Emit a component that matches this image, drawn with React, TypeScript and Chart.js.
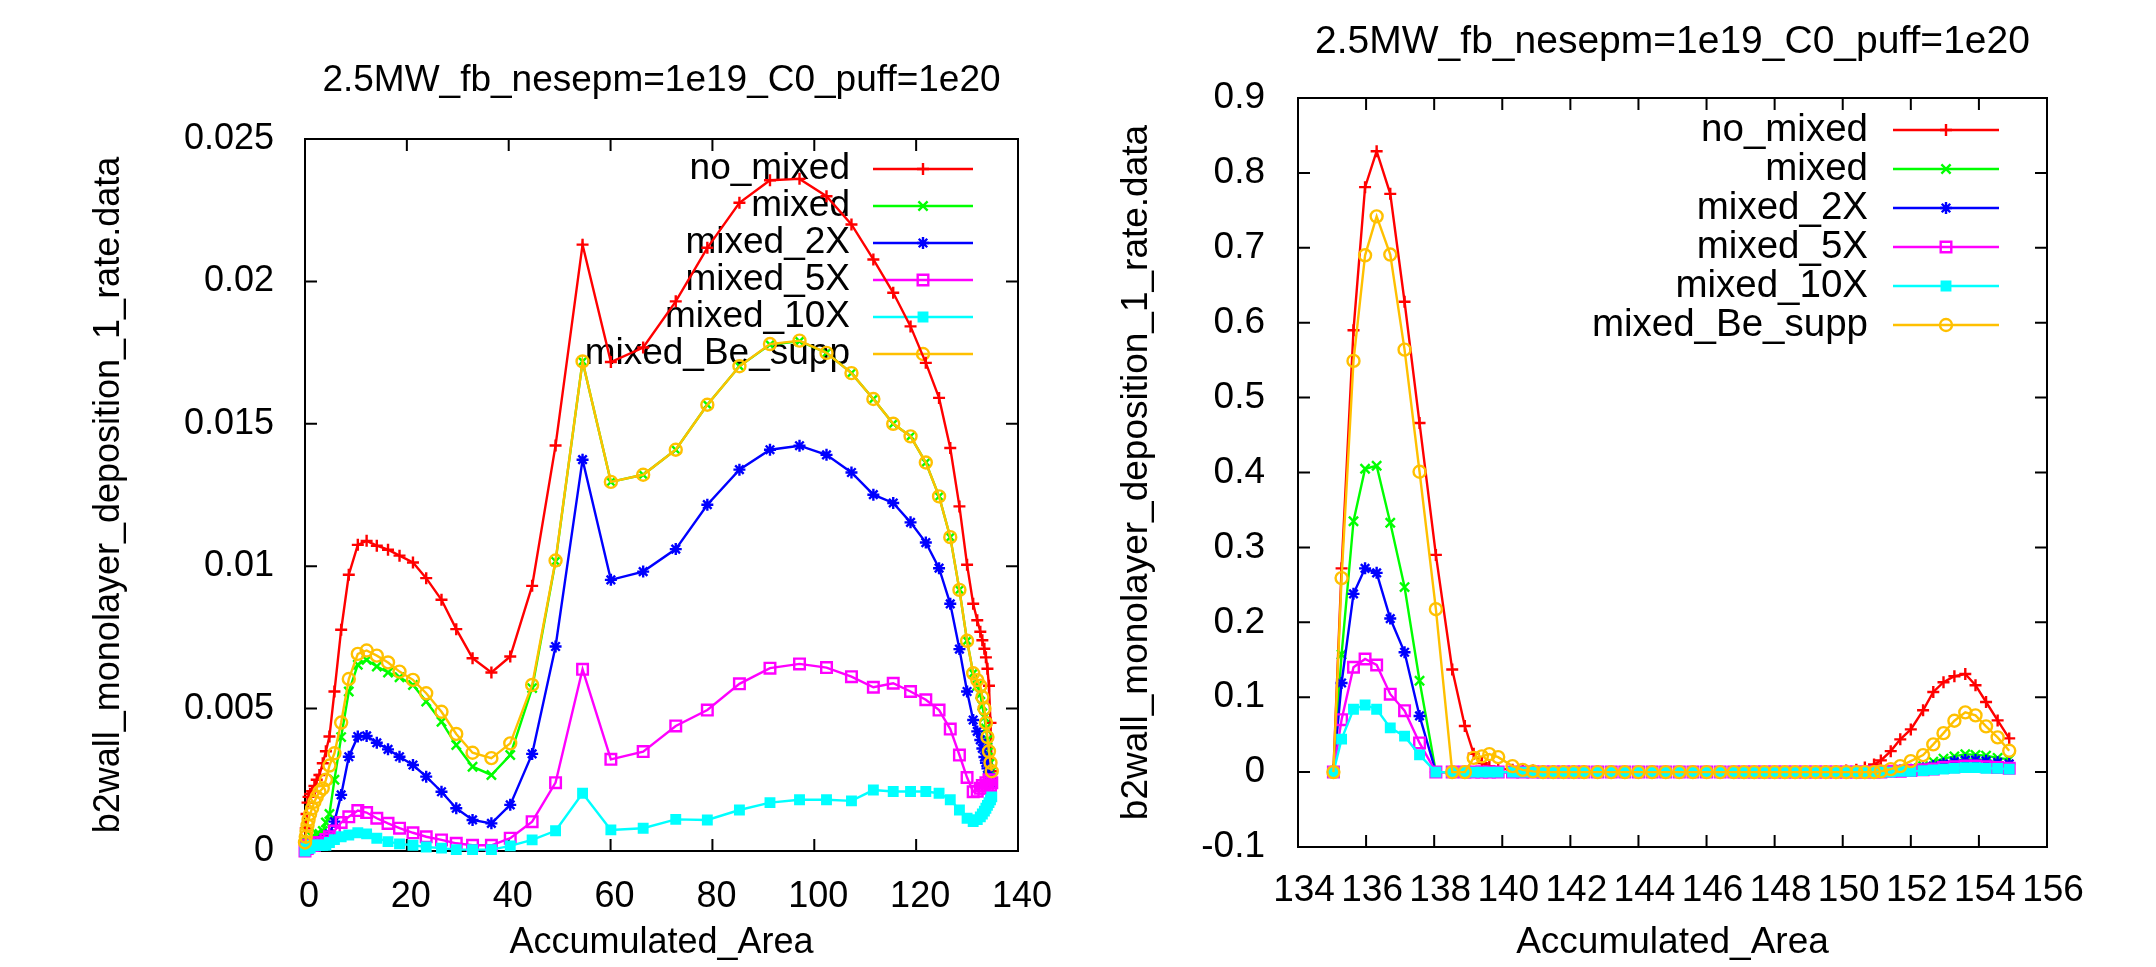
import React, { useEffect, useRef } from "react";
import { Chart, registerables } from "chart.js";
Chart.register(...registerables);

const FONT = "'Liberation Sans', Arial, Helvetica, sans-serif";

const TITLE = "2.5MW_fb_nesepm=1e19_C0_puff=1e20";
const Y_TITLE = "b2wall_monolayer_deposition_1_rate.data";
const X_TITLE = "Accumulated_Area";
const SERIES_NAMES = ["no_mixed", "mixed", "mixed_2X", "mixed_5X", "mixed_10X", "mixed_Be_supp"];
const SERIES_COLORS = ["#ff0000", "#00ff00", "#0000ff", "#ff00ff", "#00ffff", "#ffc000"];

// ---------- left panel data ----------
const LEFT_X = [0, 0.15, 0.3, 0.5, 0.7, 1.0, 1.4, 1.85, 2.3, 2.83, 3.49, 4.1, 4.8, 5.78, 7.1, 8.6, 10.37, 12.1, 14.1, 16.3, 18.56, 21.2, 23.8, 26.8, 29.7, 32.9, 36.6, 40.3, 44.6, 49.2, 54.5, 60.06, 66.4, 72.8, 79.0, 85.3, 91.3, 97.1, 102.4, 107.3, 111.6, 115.5, 118.9, 121.9, 124.5, 126.7, 128.5, 130.0, 131.2, 132.0, 132.6, 133.0, 133.4, 133.7, 134.0, 134.3, 134.6, 134.85];
const LEFT_NO_MIXED = [0.0003, 0.0008, 0.0013, 0.0017, 0.0019, 0.0020, 0.0021, 0.00228, 0.0025, 0.00267, 0.00308, 0.0035, 0.00402, 0.0056, 0.00777, 0.0097, 0.01075, 0.01089, 0.01072, 0.01058, 0.01037, 0.01013, 0.00958, 0.00882, 0.00779, 0.00677, 0.00627, 0.00683, 0.00931, 0.01424, 0.02129, 0.01717, 0.01768, 0.0193, 0.02118, 0.02276, 0.02355, 0.0236, 0.02299, 0.022, 0.02077, 0.0196, 0.01842, 0.01714, 0.01591, 0.01415, 0.0121, 0.01005, 0.00868, 0.0081, 0.0077, 0.0074, 0.0071, 0.0068, 0.0064, 0.0058, 0.0045, 0.0028];
const LEFT_MIXED = [0.0001, 0.0002, 0.0003, 0.0003, 0.0004, 0.0004, 0.0005, 0.0005, 0.0006, 0.0006, 0.0007, 0.0010, 0.0013, 0.0025, 0.0040, 0.0056, 0.00654, 0.00671, 0.00648, 0.00627, 0.0061, 0.00583, 0.00525, 0.00454, 0.00372, 0.00296, 0.00267, 0.00337, 0.00572, 0.01017, 0.01719, 0.01296, 0.01321, 0.01409, 0.01567, 0.01702, 0.01778, 0.0179, 0.01749, 0.01678, 0.01587, 0.015, 0.01456, 0.01364, 0.01245, 0.01102, 0.00917, 0.00738, 0.00624, 0.0058, 0.0055, 0.0051, 0.0047, 0.0043, 0.0039, 0.0035, 0.0031, 0.0028];
const LEFT_MIXED_2X = [0.0001, 0.0001, 0.0001, 0.0002, 0.0002, 0.0002, 0.0002, 0.0003, 0.0003, 0.0003, 0.0004, 0.0004, 0.0006, 0.00103, 0.00197, 0.00331, 0.00402, 0.00404, 0.0038, 0.00357, 0.00331, 0.00302, 0.00261, 0.00208, 0.0015, 0.00109, 0.00097, 0.00162, 0.00341, 0.00718, 0.01374, 0.00952, 0.00981, 0.0106, 0.01216, 0.01339, 0.01409, 0.01423, 0.01391, 0.01329, 0.01251, 0.01222, 0.01154, 0.01083, 0.00993, 0.00868, 0.00709, 0.0056, 0.0046, 0.0042, 0.0039, 0.0036, 0.0033, 0.0031, 0.0029, 0.0027, 0.0025, 0.0024];
const LEFT_MIXED_5X = [0.0, 0.0001, 0.0001, 0.0001, 0.0002, 0.0002, 0.0002, 0.0002, 0.0003, 0.0003, 0.0003, 0.0004, 0.0005, 0.0007, 0.0010, 0.0012, 0.00142, 0.00135, 0.00115, 0.00097, 0.0008, 0.00064, 0.0005, 0.00039, 0.00027, 0.0002, 0.0002, 0.00045, 0.00103, 0.0024, 0.00638, 0.00322, 0.00349, 0.00439, 0.00495, 0.00587, 0.00642, 0.00657, 0.00644, 0.00612, 0.00575, 0.00589, 0.0056, 0.00531, 0.00495, 0.00428, 0.00337, 0.00258, 0.00208, 0.0021, 0.0022, 0.0023, 0.0022, 0.0024, 0.0023, 0.0025, 0.0023, 0.0024];
const LEFT_MIXED_10X = [0.0, 0.0001, 0.0001, 0.0001, 0.0001, 0.0001, 0.0002, 0.0002, 0.0002, 0.0002, 0.0002, 0.0002, 0.0003, 0.0004, 0.0005, 0.00056, 0.00064, 0.0006, 0.00045, 0.00033, 0.00025, 0.0002, 0.00014, 0.0001, 0.00005, 0.00005, 0.00005, 0.00018, 0.00039, 0.00071, 0.00203, 0.00074, 0.0008, 0.00111, 0.00109, 0.00144, 0.0017, 0.0018, 0.0018, 0.00176, 0.00214, 0.00209, 0.00209, 0.00209, 0.00203, 0.0018, 0.00144, 0.00115, 0.00103, 0.0011, 0.0012, 0.0013, 0.0014, 0.0015, 0.0016, 0.0017, 0.0018, 0.0019];
const LEFT_BE_SUPP = [0.0003, 0.0005, 0.0007, 0.0009, 0.0011, 0.0013, 0.0015, 0.00173, 0.0019, 0.00208, 0.0022, 0.0025, 0.0030, 0.00343, 0.00451, 0.00604, 0.00692, 0.00704, 0.00686, 0.00662, 0.0063, 0.00601, 0.00554, 0.00489, 0.00411, 0.00345, 0.00326, 0.00378, 0.00583, 0.0102, 0.01719, 0.01296, 0.01321, 0.01409, 0.01567, 0.01702, 0.0178, 0.01792, 0.01749, 0.01678, 0.01587, 0.015, 0.01456, 0.01364, 0.01245, 0.01102, 0.00917, 0.00738, 0.00624, 0.0060, 0.0058, 0.0054, 0.0050, 0.0045, 0.0040, 0.0035, 0.0031, 0.0028];

// ---------- right panel data ----------
const RIGHT_X = [135.04, 135.28, 135.63, 135.97, 136.31, 136.71, 137.13, 137.57, 138.05, 138.53, 138.9, 139.16, 139.4, 139.62, 139.88, 140.3, 140.6, 140.9, 141.2, 141.5, 141.8, 142.1, 142.4, 142.8, 143.2, 143.6, 144.0, 144.4, 144.8, 145.2, 145.6, 146.0, 146.4, 146.8, 147.1, 147.4, 147.7, 148.0, 148.3, 148.6, 148.9, 149.2, 149.5, 149.8, 150.1, 150.4, 150.65, 150.92, 151.12, 151.41, 151.69, 152.0, 152.36, 152.66, 152.96, 153.28, 153.6, 153.9, 154.21, 154.55, 154.89];
const RIGHT_NO_MIXED = [0.002, 0.272, 0.59, 0.781, 0.829, 0.772, 0.628, 0.466, 0.29, 0.137, 0.0615, 0.0245, 0.012, 0.008, 0.005,
  0.003, 0.002, 0.002, 0.001, 0.001, 0.001, 0.001, 0.001, 0.001, 0.0, 0.0, 0.0, 0.0, 0.0, 0.0, 0.0, 0.0, 0.0, 0.0, 0.0, 0.0, 0.0, 0.0, 0.0, 0.0, 0.0, 0.0, 0.001, 0.001, 0.002, 0.003, 0.006,
  0.0103, 0.0156, 0.028, 0.0437, 0.057, 0.0825, 0.107, 0.12, 0.128, 0.131, 0.116, 0.0936, 0.069, 0.045];
const RIGHT_MIXED = [0.0, 0.157, 0.335, 0.405, 0.409, 0.333, 0.247, 0.122, 0.0, 0.0, 0.0, 0.0, 0.0, 0.0, 0.0,
  0.0, 0.0, 0.0, 0.0, 0.0, 0.0, 0.0, 0.0, 0.0, 0.0, 0.0, 0.0, 0.0, 0.0, 0.0, 0.0, 0.0, 0.0, 0.0, 0.0, 0.0, 0.0, 0.0, 0.0, 0.0, 0.0, 0.0, 0.0, 0.0, 0.0, 0.0, 0.0,
  0.001, 0.001, 0.002, 0.003, 0.005, 0.008, 0.014, 0.018, 0.021, 0.024, 0.023, 0.022, 0.019, 0.017];
const RIGHT_MIXED_2X = [0.0, 0.119, 0.238, 0.272, 0.266, 0.205, 0.16, 0.075, 0.0, 0.0, 0.0, 0.0, 0.0, 0.0, 0.0,
  0.0, 0.0, 0.0, 0.0, 0.0, 0.0, 0.0, 0.0, 0.0, 0.0, 0.0, 0.0, 0.0, 0.0, 0.0, 0.0, 0.0, 0.0, 0.0, 0.0, 0.0, 0.0, 0.0, 0.0, 0.0, 0.0, 0.0, 0.0, 0.0, 0.0, 0.0, 0.0,
  0.0, 0.001, 0.001, 0.002, 0.003, 0.005, 0.008, 0.011, 0.014, 0.016, 0.016, 0.015, 0.013, 0.011];
const RIGHT_MIXED_5X = [0.0, 0.07, 0.14, 0.151, 0.143, 0.104, 0.082, 0.039, 0.0, 0.0, 0.0, 0.0, 0.0, 0.0, 0.0,
  0.0, 0.0, 0.0, 0.0, 0.0, 0.0, 0.0, 0.0, 0.0, 0.0, 0.0, 0.0, 0.0, 0.0, 0.0, 0.0, 0.0, 0.0, 0.0, 0.0, 0.0, 0.0, 0.0, 0.0, 0.0, 0.0, 0.0, 0.0, 0.0, 0.0, 0.0, 0.0,
  0.0, 0.0, 0.001, 0.001, 0.002, 0.003, 0.004, 0.006, 0.007, 0.008, 0.008, 0.007, 0.006, 0.005];
const RIGHT_MIXED_10X = [0.0, 0.044, 0.084, 0.0896, 0.084, 0.059, 0.048, 0.023, 0.0, 0.0, 0.0, 0.0, 0.0, 0.0, 0.0,
  0.0, 0.0, 0.0, 0.0, 0.0, 0.0, 0.0, 0.0, 0.0, 0.0, 0.0, 0.0, 0.0, 0.0, 0.0, 0.0, 0.0, 0.0, 0.0, 0.0, 0.0, 0.0, 0.0, 0.0, 0.0, 0.0, 0.0, 0.0, 0.0, 0.0, 0.0, 0.0,
  0.0, 0.0, 0.0, 0.001, 0.001, 0.002, 0.003, 0.004, 0.005, 0.006, 0.006, 0.005, 0.005, 0.004];
const RIGHT_BE_SUPP = [0.0, 0.259, 0.549, 0.69, 0.742, 0.691, 0.564, 0.401, 0.2175, 0.0, 0.0, 0.019, 0.021, 0.024, 0.02,
  0.008, 0.003, 0.001, 0.0, 0.0, 0.0, 0.0, 0.0, 0.0, 0.0, 0.0, 0.0, 0.0, 0.0, 0.0, 0.0, 0.0, 0.0, 0.0, 0.0, 0.0, 0.0, 0.0, 0.0, 0.0, 0.0, 0.0, 0.0, 0.0, 0.0, 0.0, 0.0,
  0.0, 0.001, 0.004, 0.008, 0.0147, 0.0227, 0.037, 0.052, 0.0686, 0.0797, 0.0758, 0.061, 0.0463, 0.0285];

// ---------- ticks ----------
const LEFT_X_TICKS = [0, 20, 40, 60, 80, 100, 120, 140];
const LEFT_Y_TICKS = [0, 0.005, 0.01, 0.015, 0.02, 0.025];
const RIGHT_X_TICKS = [134, 136, 138, 140, 142, 144, 146, 148, 150, 152, 154, 156];
const RIGHT_Y_TICKS = [-0.1, 0, 0.1, 0.2, 0.3, 0.4, 0.5, 0.6, 0.7, 0.8, 0.9];

const LEFT_SERIES = [LEFT_NO_MIXED, LEFT_MIXED, LEFT_MIXED_2X, LEFT_MIXED_5X, LEFT_MIXED_10X, LEFT_BE_SUPP];
const RIGHT_SERIES = [RIGHT_NO_MIXED, RIGHT_MIXED, RIGHT_MIXED_2X, RIGHT_MIXED_5X, RIGHT_MIXED_10X, RIGHT_BE_SUPP];

// marker styles (gnuplot point types)
const MARKERS = [
  { pointStyle: "cross", radius: 6, filled: false },
  { pointStyle: "crossRot", radius: 6.5, filled: false },
  { pointStyle: "star", radius: 6, filled: false },
  { pointStyle: "rect", radius: 7.5, filled: false },
  { pointStyle: "rect", radius: 6, filled: true },
  { pointStyle: "circle", radius: 6, filled: false },
];
const LINE_WIDTH = 2.4;

function drawMarker(ctx: CanvasRenderingContext2D, m: any, x: number, y: number, color: string) {
  const r = m.radius;
  ctx.save();
  ctx.strokeStyle = color;
  ctx.fillStyle = color;
  ctx.lineWidth = LINE_WIDTH;
  ctx.beginPath();
  const c = r * Math.SQRT1_2;
  if (m.pointStyle === "cross" || m.pointStyle === "star") {
    ctx.moveTo(x - r, y); ctx.lineTo(x + r, y);
    ctx.moveTo(x, y - r); ctx.lineTo(x, y + r);
  }
  if (m.pointStyle === "crossRot" || m.pointStyle === "star") {
    ctx.moveTo(x - c, y - c); ctx.lineTo(x + c, y + c);
    ctx.moveTo(x - c, y + c); ctx.lineTo(x + c, y - c);
  }
  if (m.pointStyle === "rect") {
    ctx.rect(x - c, y - c, 2 * c, 2 * c);
    if (m.filled) ctx.fill();
  }
  if (m.pointStyle === "circle") {
    ctx.arc(x, y, r, 0, Math.PI * 2);
  }
  ctx.stroke();
  ctx.restore();
}

function makeGnuPlugin(cfg: any) {
  return {
    id: "gnuframe",
    beforeDatasetsDraw(chart: any) {
      const { ctx, chartArea: ca, scales } = chart;
      ctx.save();
      ctx.strokeStyle = "#000";
      ctx.lineWidth = 2;
      ctx.strokeRect(ca.left, ca.top, ca.right - ca.left, ca.bottom - ca.top);
      const tl = 12;
      ctx.beginPath();
      for (const v of cfg.xTicks) {
        const px = scales.x.getPixelForValue(v);
        ctx.moveTo(px, ca.bottom); ctx.lineTo(px, ca.bottom - tl);
        ctx.moveTo(px, ca.top); ctx.lineTo(px, ca.top + tl);
      }
      for (const v of cfg.yTicks) {
        const py = scales.y.getPixelForValue(v);
        ctx.moveTo(ca.left, py); ctx.lineTo(ca.left + tl, py);
        ctx.moveTo(ca.right, py); ctx.lineTo(ca.right - tl, py);
      }
      ctx.stroke();

      // title
      ctx.fillStyle = "#000";
      ctx.textAlign = "center";
      ctx.textBaseline = "middle";
      ctx.font = `${cfg.titleSize}px ${FONT}`;
      ctx.fillText(TITLE, (ca.left + ca.right) / 2, cfg.titleY);

      // legend (key)
      const L = cfg.legend;
      ctx.font = `${L.size}px ${FONT}`;
      ctx.textAlign = "right";
      SERIES_NAMES.forEach((name, i) => {
        const y = L.y0 + i * L.dy;
        ctx.fillStyle = "#000";
        ctx.fillText(name, L.textRight, y);
        ctx.strokeStyle = SERIES_COLORS[i];
        ctx.lineWidth = LINE_WIDTH;
        ctx.beginPath();
        ctx.moveTo(L.x1, y); ctx.lineTo(L.x2, y);
        ctx.stroke();
        drawMarker(ctx, MARKERS[i], (L.x1 + L.x2) / 2, y, SERIES_COLORS[i]);
      });
      ctx.restore();
    },
  };
}

function buildConfig(xs: number[], series: number[][], p: any) {
  const datasets = series.map((vals, i) => ({
    label: SERIES_NAMES[i],
    data: xs.map((x, j) => ({ x, y: vals[j] })),
    showLine: true,
    borderColor: SERIES_COLORS[i],
    backgroundColor: SERIES_COLORS[i],
    borderWidth: LINE_WIDTH,
    pointStyle: MARKERS[i].pointStyle,
    pointRadius: MARKERS[i].radius,
    pointBorderWidth: LINE_WIDTH,
    pointBorderColor: SERIES_COLORS[i],
    pointBackgroundColor: MARKERS[i].filled ? SERIES_COLORS[i] : "rgba(0,0,0,0)",
    tension: 0,
    clip: false,
    order: 5 - i,
  }));
  return {
    type: "scatter",
    data: { datasets },
    plugins: [makeGnuPlugin(p)],
    options: {
      responsive: false,
      maintainAspectRatio: false,
      animation: false,
      devicePixelRatio: 1,
      events: [],
      layout: { padding: { left: 0, right: p.padRight, top: p.padTop, bottom: 0 } },
      plugins: { legend: { display: false }, tooltip: { enabled: false }, title: { display: false } },
      scales: {
        x: {
          type: "linear",
          min: p.xMin,
          max: p.xMax,
          afterBuildTicks: (a: any) => { a.ticks = p.xTicks.map((v: number) => ({ value: v })); },
          afterFit: (a: any) => { a.height = p.xAxisHeight; },
          grid: { display: false },
          border: { display: false },
          ticks: {
            autoSkip: false, maxRotation: 0, minRotation: 0, color: "#000",
            font: { family: FONT, size: p.tickSize }, padding: p.xTickPad, labelOffset: p.xLabelOffset,
            callback: (v: any) => p.fmtX(v),
          },
          title: { display: true, text: X_TITLE, color: "#000", font: { family: FONT, size: p.axisTitleSize }, padding: { top: 0, bottom: p.xTitlePad } },
        },
        y: {
          type: "linear",
          min: p.yMin,
          max: p.yMax,
          afterBuildTicks: (a: any) => { a.ticks = p.yTicks.map((v: number) => ({ value: v })); },
          afterFit: (a: any) => { a.width = p.yAxisWidth; },
          grid: { display: false },
          border: { display: false },
          ticks: {
            autoSkip: false, color: "#000",
            font: { family: FONT, size: p.tickSize }, padding: p.yTickPad,
            callback: (v: any) => p.fmtY(v),
          },
          title: { display: true, text: Y_TITLE, color: "#000", font: { family: FONT, size: p.axisTitleSize }, padding: { top: p.yTitlePad, bottom: 0 } },
        },
      },
    },
  };
}

const LEFT_PANEL = {
  xMin: 0, xMax: 140, yMin: 0, yMax: 0.025,
  xTicks: LEFT_X_TICKS, yTicks: LEFT_Y_TICKS,
  padRight: 60, padTop: 139, yAxisWidth: 305, xAxisHeight: 116,
  tickSize: 36, axisTitleSize: 36, titleSize: 37, titleY: 81,
  xTickPad: 16, yTickPad: 23, xLabelOffset: 4, xTitlePad: 2, yTitlePad: 87,
  fmtX: (v: number) => String(v),
  fmtY: (v: number) => String(+v.toFixed(3)),
  legend: { size: 37, textRight: 850, x1: 873, x2: 973, y0: 169, dy: 37 },
};

const RIGHT_PANEL = {
  xMin: 134, xMax: 156, yMin: -0.1, yMax: 0.9,
  xTicks: RIGHT_X_TICKS, yTicks: RIGHT_Y_TICKS,
  padRight: 109, padTop: 98, yAxisWidth: 220, xAxisHeight: 120,
  tickSize: 37, axisTitleSize: 37, titleSize: 39, titleY: 42,
  xTickPad: 14, yTickPad: 25, xLabelOffset: 6, xTitlePad: 2, yTitlePad: 37,
  fmtX: (v: number) => String(v),
  fmtY: (v: number) => String(+v.toFixed(1)),
  legend: { size: 38.5, textRight: 790, x1: 815, x2: 921, y0: 130, dy: 39 },
};

export default function App() {
  const leftRef = useRef<HTMLCanvasElement>(null);
  const rightRef = useRef<HTMLCanvasElement>(null);
  useEffect(() => {
    const c1 = new Chart(leftRef.current as HTMLCanvasElement, buildConfig(LEFT_X, LEFT_SERIES, LEFT_PANEL) as any);
    const c2 = new Chart(rightRef.current as HTMLCanvasElement, buildConfig(RIGHT_X, RIGHT_SERIES, RIGHT_PANEL) as any);
    return () => { c1.destroy(); c2.destroy(); };
  }, []);
  return (
    <div style={{ position: "absolute", left: 0, top: 0, width: 2156, height: 967, background: "#fff", overflow: "hidden" }}>
      <canvas ref={leftRef} width={1078} height={967} style={{ position: "absolute", left: 0, top: 0, width: 1078, height: 967 }} />
      <canvas ref={rightRef} width={1078} height={967} style={{ position: "absolute", left: 1078, top: 0, width: 1078, height: 967 }} />
    </div>
  );
}
